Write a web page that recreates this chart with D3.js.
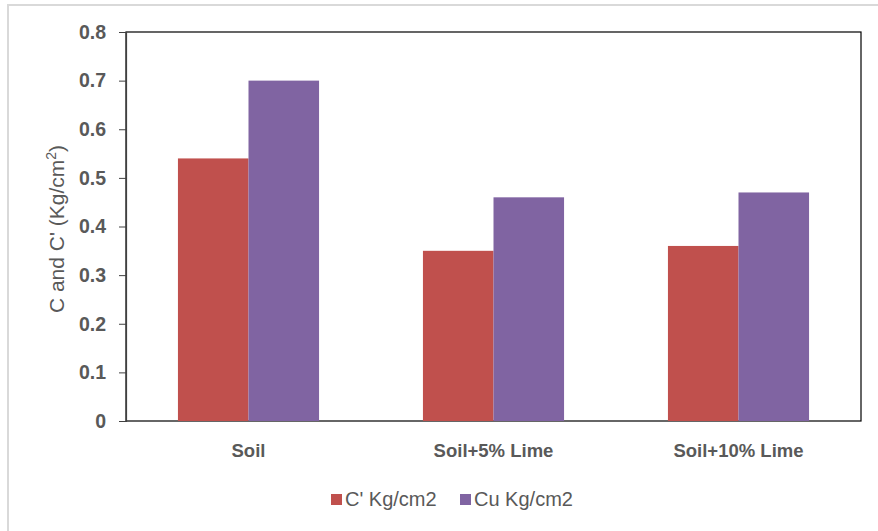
<!DOCTYPE html>
<html>
<head>
<meta charset="utf-8">
<script src="https://cdn.jsdelivr.net/npm/d3@7"></script>
<style>
  html, body { margin: 0; padding: 0; background: #fff; }
  svg { display: block; font-family: "Liberation Sans", Arial, sans-serif; }
</style>
</head>
<body>
<svg id="chart" width="878" height="531"></svg>
<script>
// Cohesion results per mix
const categories = ["Soil", "Soil+5% Lime", "Soil+10% Lime"];
const seriesNames = ["C' Kg/cm2", "Cu Kg/cm2"];
const cPrime = [0.54, 0.35, 0.36];
const cu = [0.70, 0.46, 0.47];
const yTicks = [0, 0.1, 0.2, 0.3, 0.4, 0.5, 0.6, 0.7, 0.8];
const colors = ["#C0504D", "#8064A2"];

const svg = d3.select("#chart");
const W = 878, H = 531;
const textColor = "#595959";

// outer frame
svg.append("rect")
  .attr("x", 8).attr("y", 5).attr("width", W - 8 + 2).attr("height", H)
  .attr("fill", "#fff").attr("stroke", "#d9d9d9").attr("stroke-width", 2);

const m = { left: 126, right: 861, top: 32, bottom: 421 };

const x = d3.scaleBand().domain(categories).range([m.left, m.right]).paddingInner(0.424).paddingOuter(0.212);
const xs = d3.scaleBand().domain(seriesNames).range([0, x.bandwidth()]);
const y = d3.scaleLinear().domain([0, 0.8]).range([m.bottom, m.top]);

// plot box
svg.append("rect")
  .attr("x", m.left).attr("y", m.top)
  .attr("width", m.right - m.left).attr("height", m.bottom - m.top)
  .attr("fill", "none").attr("stroke", "#000").attr("stroke-width", 1.2);

const data = categories.map((c, i) => ({ cat: c, vals: [cPrime[i], cu[i]] }));

svg.append("g").selectAll("g")
  .data(data).join("g")
  .attr("transform", d => `translate(${x(d.cat)},0)`)
  .selectAll("rect")
  .data(d => d.vals.map((v, j) => ({ name: seriesNames[j], v, j })))
  .join("rect")
  .attr("x", d => xs(d.name))
  .attr("width", xs.bandwidth())
  .attr("y", d => y(d.v))
  .attr("height", d => y(0) - y(d.v))
  .attr("fill", d => colors[d.j]);

// y axis
const yAxis = svg.append("g")
  .attr("transform", `translate(${m.left},0)`)
  .call(d3.axisLeft(y).tickValues(yTicks).tickSize(7).tickPadding(13)
    .tickFormat(d => d === 0 ? "0" : d3.format(".1f")(d)));
yAxis.select(".domain").attr("stroke", "#404040").attr("stroke-width", 1.2);
yAxis.selectAll(".tick line").attr("stroke", "#404040");
yAxis.selectAll(".tick text")
  .attr("fill", textColor).attr("font-size", 19.5).attr("font-weight", "bold");

// x axis labels
svg.append("g").selectAll("text")
  .data(categories).join("text")
  .attr("x", d => x(d) + x.bandwidth() / 2)
  .attr("y", 457)
  .attr("text-anchor", "middle")
  .attr("fill", textColor).attr("font-size", 18.5).attr("font-weight", "bold")
  .text(d => d);

// y axis title
const yt = svg.append("text")
  .attr("transform", "translate(64,229) rotate(-90)")
  .attr("text-anchor", "middle")
  .attr("fill", textColor).attr("font-size", 21);
yt.append("tspan").text("C and C' (Kg/cm");
yt.append("tspan").attr("font-size", 14).attr("dy", -8).text("2");
yt.append("tspan").attr("dy", 8).text(")");

// legend
const legendX = [331, 460];
const legend = svg.append("g").selectAll("g")
  .data(seriesNames).join("g")
  .attr("transform", (d, i) => `translate(${legendX[i]},0)`);
legend.append("rect")
  .attr("x", 0).attr("y", 494).attr("width", 11).attr("height", 11)
  .attr("fill", (d, i) => colors[i]);
legend.append("text")
  .attr("x", 14).attr("y", 506)
  .attr("fill", textColor).attr("font-size", 20)
  .text(d => d);
</script>
</body>
</html>
